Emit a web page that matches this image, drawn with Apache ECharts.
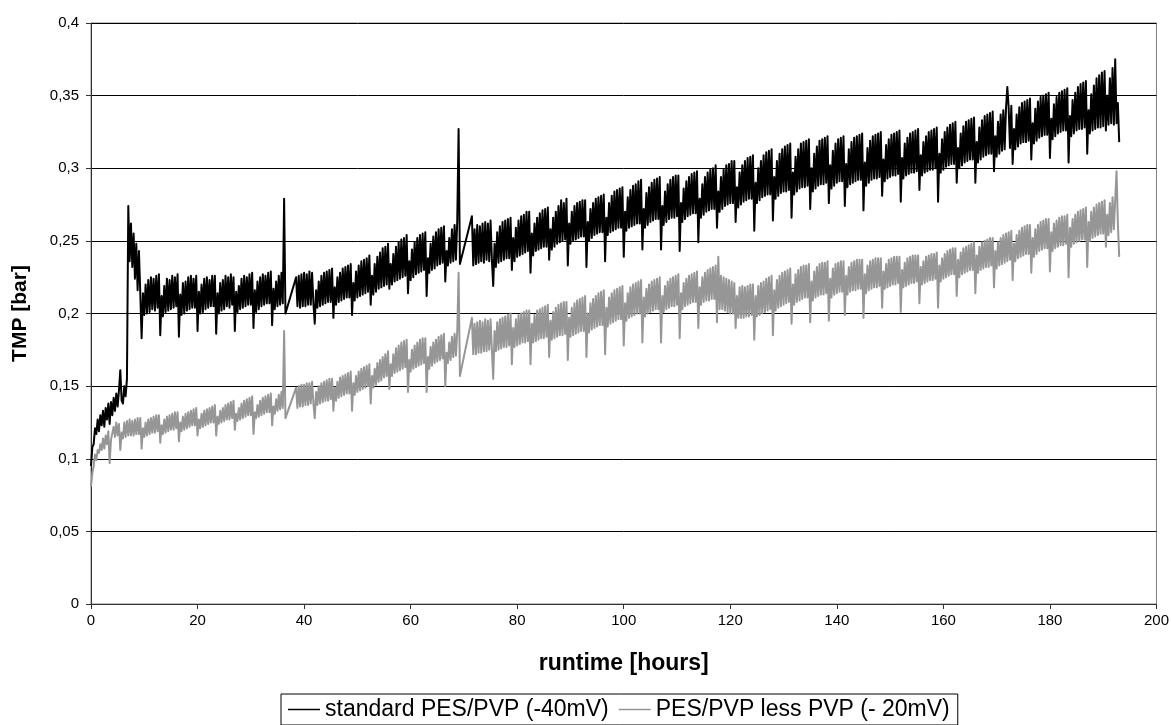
<!DOCTYPE html>
<html>
<head>
<meta charset="utf-8">
<title>TMP runtime</title>
<script src="https://cdn.jsdelivr.net/npm/echarts@6/dist/echarts.min.js"></script>
<style>
  html, body { margin: 0; padding: 0; background: #fff; }
  #tmpChart { width: 1172px; height: 725px; }
</style>
</head>
<body>
<div id="tmpChart"></div>
<script>
// logger sample interval [hours]
var STEP = 0.25

// axis ticks
var xTicks = { min: 0, max: 200, interval: 20 }
var yTicks = { min: 0, max: 0.4, interval: 0.05 }

var seriesNames = ['standard PES/PVP (-40mV)', 'PES/PVP less PVP (- 20mV)']

// standard PES/PVP, TMP [bar], three logging runs (one row = 4 hours)
var blackStartA = 0
var blackA = [
  .095, .108, .110, .121, .117, .127, .119, .130, .123, .133, .122, .135, .127, .138, .124, .139, // 0
  .130, .142, .133, .145, .136, .147, .161, .140, .138, .150, .143, .155, .274, .236, .262, .232, // 4
  .255, .224, .248, .216, .243, .214, .183, .214, .199, .220, .200, .223, .201, .225, .203, .224, // 8
  .202, .226, .204, .227, .185, .212, .198, .219, .201, .224, .202, .223, .203, .226, .204, .225, // 12
  .205, .227, .184, .213, .199, .221, .200, .222, .202, .225, .203, .226, .204, .224, .204, .226, // 16
  .188, .215, .200, .220, .201, .224, .203, .225, .204, .223, .205, .226, .205, .226, .186, .214, // 20
  .200, .221, .202, .223, .203, .226, .205, .225, .204, .227, .206, .225, .188, .215, .201, .219, // 24
  .203, .224, .204, .226, .205, .225, .206, .227, .206, .228, .190, .216, .201, .222, .203, .225, // 28
  .205, .227, .206, .226, .207, .228, .207, .229, .192, .217, .203, .222, .205, .226, .206, .228, // 32
  .207, .279, .200
]
var blackStartB = 38.5
var blackB = [
  .225, .205, .226, .204, .227, .205,
  .228, .205, .227, .206, .229, .206, .228, .207, .193, .216, .204, .222, .205, .226, .206, .228, // 40
  .207, .229, .208, .230, .208, .231, .197, .218, .206, .225, .208, .228, .209, .231, .210, .232, // 44
  .211, .233, .211, .234, .199, .221, .209, .229, .211, .233, .212, .236, .213, .237, .214, .238, // 48
  .215, .240, .206, .226, .213, .234, .215, .239, .217, .242, .218, .245, .219, .246, .220, .248, // 52
  .217, .234, .220, .241, .222, .246, .223, .249, .224, .251, .225, .252, .226, .254, .214, .236, // 56
  .223, .244, .225, .249, .227, .252, .228, .254, .229, .255, .230, .256, .212, .238, .228, .248, // 60
  .230, .253, .231, .256, .233, .258, .234, .259, .235, .260, .222, .243, .233, .252, .235, .258, // 64
  .236, .261, .237, .264, .327, .234
]
var blackStartC = 71.5
var blackC = [
  .267, .233,
  .258, .234, .261, .235, .260, .236, .262, .235, .263, .237, .262, .236, .264, .237, .219, .248, // 72
  .232, .256, .235, .260, .236, .263, .237, .264, .238, .265, .238, .266, .230, .252, .236, .259, // 76
  .239, .264, .240, .267, .241, .268, .242, .270, .243, .270, .228, .255, .240, .262, .243, .266, // 80
  .244, .269, .245, .271, .246, .272, .246, .273, .237, .258, .244, .266, .246, .270, .248, .274, // 84
  .249, .278, .250, .276, .251, .279, .233, .262, .248, .270, .250, .274, .251, .276, .252, .277, // 88
  .253, .278, .253, .278, .232, .263, .250, .272, .252, .276, .254, .279, .255, .280, .256, .281, // 92
  .256, .282, .236, .266, .254, .276, .256, .281, .257, .284, .258, .285, .259, .286, .259, .287, // 96
  .239, .270, .257, .280, .259, .285, .260, .288, .261, .289, .262, .291, .262, .292, .244, .272, // 100
  .259, .283, .261, .287, .263, .290, .264, .292, .265, .293, .265, .294, .244, .274, .261, .284, // 104
  .263, .289, .265, .292, .266, .294, .266, .295, .267, .295, .243, .276, .263, .286, .265, .291, // 108
  .267, .294, .268, .296, .269, .297, .269, .298, .249, .279, .266, .289, .268, .294, .270, .297, // 112
  .271, .299, .272, .300, .272, .302, .259, .284, .270, .294, .272, .299, .274, .302, .275, .303, // 116
  .276, .305, .276, .305, .263, .287, .273, .297, .275, .302, .277, .305, .278, .307, .279, .308, // 120
  .279, .309, .257, .290, .276, .300, .278, .305, .280, .309, .281, .311, .282, .312, .282, .313, // 124
  .264, .294, .279, .305, .281, .310, .283, .313, .284, .315, .284, .316, .285, .317, .266, .297, // 128
  .282, .308, .284, .313, .286, .317, .287, .318, .287, .319, .288, .320, .272, .300, .284, .310, // 132
  .286, .315, .288, .319, .289, .320, .289, .321, .290, .322, .276, .302, .286, .312, .288, .317, // 136
  .290, .320, .291, .321, .291, .322, .274, .303, .287, .313, .289, .318, .290, .321, .291, .322, // 140
  .292, .323, .292, .324, .271, .304, .288, .314, .290, .319, .292, .322, .293, .323, .293, .324, // 144
  .294, .325, .281, .306, .291, .316, .293, .320, .294, .323, .295, .324, .295, .325, .296, .326, // 148
  .277, .307, .293, .317, .295, .321, .296, .324, .297, .325, .297, .326, .298, .327, .285, .309, // 152
  .295, .318, .297, .322, .298, .325, .299, .326, .299, .327, .300, .328, .277, .310, .297, .320, // 156
  .299, .325, .301, .328, .302, .330, .303, .331, .303, .332, .290, .314, .300, .324, .302, .329, // 160
  .304, .332, .305, .333, .306, .334, .306, .335, .290, .318, .304, .328, .306, .333, .308, .336, // 164
  .309, .337, .310, .338, .310, .339, .298, .322, .308, .332, .310, .337, .312, .340, .313, .341, // 168
  .356, .342, .314, .343, .303, .327, .313, .337, .315, .342, .317, .345, .318, .346, .318, .347, // 172
  .319, .348, .306, .331, .317, .341, .319, .346, .321, .349, .322, .350, .323, .351, .323, .352, // 176
  .307, .334, .320, .344, .322, .349, .324, .352, .325, .353, .326, .354, .326, .355, .304, .336, // 180
  .322, .347, .324, .352, .326, .356, .327, .358, .327, .359, .328, .360, .310, .340, .324, .351, // 184
  .326, .357, .327, .362, .328, .364, .328, .366, .329, .367, .326, .350, .330, .362, .331, .369, // 188
  .330, .375, .331, .345, .318
]

// PES/PVP less PVP, TMP [bar]
var grayStartA = 0
var grayA = [
  .081, .090, .095, .103, .099, .106, .104, .110, .106, .114, .107, .116, .110, .119, .097, .113, // 0
  .112, .122, .115, .125, .116, .124, .106, .118, .114, .125, .115, .126, .116, .127, .116, .126, // 4
  .116, .127, .117, .128, .117, .128, .107, .121, .115, .125, .116, .127, .117, .128, .118, .129, // 8
  .118, .130, .119, .130, .111, .123, .117, .127, .118, .129, .119, .130, .120, .131, .120, .132, // 12
  .121, .132, .112, .125, .119, .129, .120, .131, .121, .132, .122, .133, .123, .134, .123, .135, // 16
  .116, .127, .121, .131, .122, .133, .123, .134, .124, .135, .125, .136, .125, .137, .116, .129, // 20
  .124, .133, .125, .135, .126, .137, .127, .138, .127, .139, .128, .140, .120, .131, .126, .135, // 24
  .127, .138, .128, .140, .129, .141, .130, .142, .130, .143, .117, .132, .128, .137, .129, .140, // 28
  .130, .142, .131, .143, .132, .144, .132, .145, .123, .136, .131, .141, .133, .144, .134, .146, // 32
  .135, .188, .128
]
var grayStartB = 38.5
var grayB = [
  .149, .135, .150, .136, .151, .136,
  .151, .137, .152, .137, .152, .138, .153, .138, .128, .146, .137, .150, .138, .152, .139, .153, // 40
  .140, .154, .140, .155, .141, .155, .133, .149, .140, .153, .142, .156, .143, .157, .144, .158, // 44
  .145, .159, .145, .160, .133, .152, .144, .157, .146, .160, .147, .162, .148, .163, .149, .164, // 48
  .150, .165, .138, .157, .149, .162, .151, .166, .153, .168, .154, .170, .156, .172, .157, .174, // 52
  .148, .165, .157, .172, .159, .176, .160, .178, .161, .180, .162, .181, .163, .182, .146, .168, // 56
  .160, .175, .162, .178, .163, .180, .164, .182, .165, .183, .166, .183, .146, .170, .162, .177, // 60
  .164, .180, .166, .182, .167, .184, .168, .185, .169, .186, .150, .173, .166, .180, .168, .184, // 64
  .170, .186, .171, .188, .228, .157
]
var grayStartC = 71.5
var grayC = [
  .197, .172,
  .193, .172, .194, .173, .195, .173, .194, .174, .196, .174, .195, .175, .196, .175, .155, .188, // 72
  .174, .194, .175, .196, .176, .197, .177, .198, .177, .199, .178, .200, .165, .190, .177, .196, // 76
  .178, .199, .179, .200, .180, .201, .180, .202, .181, .202, .165, .193, .180, .199, .181, .202, // 80
  .182, .203, .183, .204, .183, .205, .184, .206, .170, .195, .182, .201, .183, .204, .184, .206, // 84
  .185, .207, .185, .208, .186, .208, .168, .197, .184, .204, .185, .207, .186, .209, .187, .210, // 88
  .188, .211, .188, .212, .170, .200, .187, .207, .189, .210, .190, .212, .191, .214, .192, .215, // 92
  .192, .216, .172, .204, .191, .211, .193, .214, .194, .216, .195, .217, .196, .218, .196, .219, // 96
  .178, .207, .195, .214, .197, .218, .198, .220, .199, .221, .200, .222, .200, .223, .180, .211, // 100
  .198, .217, .200, .220, .201, .222, .202, .223, .203, .224, .203, .225, .180, .212, .201, .219, // 104
  .203, .222, .204, .224, .205, .225, .205, .226, .206, .227, .183, .214, .203, .221, .205, .224, // 108
  .206, .226, .207, .227, .208, .228, .208, .229, .190, .218, .206, .225, .208, .228, .209, .230, // 112
  .209, .231, .210, .232, .210, .233, .194, .239, .203, .226, .203, .225, .202, .224, .201, .223, // 116
  .200, .222, .200, .221, .190, .212, .197, .218, .197, .219, .197, .218, .198, .219, .198, .220, // 120
  .199, .220, .182, .212, .198, .219, .199, .221, .200, .222, .201, .224, .202, .225, .203, .226, // 124
  .185, .216, .202, .223, .204, .226, .205, .228, .206, .229, .207, .230, .208, .231, .193, .220, // 128
  .206, .227, .208, .230, .209, .232, .210, .233, .211, .233, .211, .234, .194, .222, .209, .229, // 132
  .211, .232, .212, .234, .213, .235, .213, .235, .214, .236, .195, .224, .211, .231, .213, .234, // 136
  .214, .235, .215, .236, .215, .236, .199, .226, .213, .232, .215, .235, .216, .236, .216, .237, // 140
  .217, .237, .217, .237, .197, .227, .214, .233, .216, .236, .217, .237, .218, .238, .218, .238, // 144
  .219, .238, .204, .229, .217, .234, .218, .237, .219, .238, .220, .239, .220, .239, .221, .239, // 148
  .201, .230, .218, .235, .219, .238, .220, .239, .221, .240, .221, .240, .222, .240, .207, .232, // 152
  .220, .236, .221, .239, .222, .240, .223, .241, .223, .241, .224, .242, .204, .233, .222, .238, // 156
  .224, .241, .225, .243, .226, .244, .227, .245, .227, .245, .212, .237, .225, .242, .227, .245, // 160
  .228, .246, .229, .247, .230, .248, .230, .249, .214, .240, .228, .246, .230, .249, .231, .250, // 164
  .232, .251, .232, .252, .233, .252, .218, .243, .231, .249, .233, .252, .234, .254, .235, .255, // 168
  .236, .256, .237, .257, .223, .248, .236, .254, .238, .257, .239, .259, .240, .260, .241, .261, // 172
  .241, .261, .228, .252, .239, .258, .241, .261, .243, .263, .244, .264, .245, .265, .245, .265, // 176
  .229, .256, .243, .262, .245, .264, .246, .266, .247, .267, .247, .267, .248, .268, .225, .259, // 180
  .246, .265, .248, .268, .249, .270, .250, .271, .251, .272, .251, .273, .232, .263, .250, .270, // 184
  .252, .273, .253, .275, .254, .276, .255, .277, .255, .278, .246, .268, .254, .276, .256, .280, // 188
  .258, .278, .298, .262, .239
]

// [hours, bar] pairs from a run's start time
function toPoints(start, values) {
  return values.map(function(v, i) { return [start + i * STEP, v] })
}

var blackData = toPoints(blackStartA, blackA)
  .concat(toPoints(blackStartB, blackB), toPoints(blackStartC, blackC))
var grayData = toPoints(grayStartA, grayA)
  .concat(toPoints(grayStartB, grayB), toPoints(grayStartC, grayC))

var FONT = 'Liberation Sans, Arial, sans-serif'

var option = {
  animation: false,
  textStyle: { fontFamily: FONT, color: '#000' },
  grid: {
    left: 91,
    right: 15,
    top: 23,
    bottom: 121,
    show: true,
    borderColor: '#808080',
    borderWidth: 1,
    backgroundColor: '#fff'
  },
  legend: {
    left: 281,
    top: 694,
    orient: 'horizontal',
    icon: 'rect',
    itemWidth: 32,
    itemHeight: 1.5,
    itemGap: 10,
    padding: [4, 8, 4, 7],
    borderColor: '#000',
    borderWidth: 1,
    textStyle: { fontFamily: FONT, fontSize: 23, color: '#000' },
    data: seriesNames
  },
  xAxis: {
    type: 'value',
    min: xTicks.min,
    max: xTicks.max,
    interval: xTicks.interval,
    name: 'runtime [hours]',
    nameLocation: 'middle',
    nameGap: 48,
    nameTextStyle: { fontFamily: FONT, fontSize: 23, fontWeight: 'bold', color: '#000' },
    axisLine: { show: true, lineStyle: { color: '#333', width: 1 } },
    axisTick: { show: true, inside: false, length: 5, lineStyle: { color: '#333' } },
    axisLabel: { fontSize: 15, color: '#000', margin: 9 },
    splitLine: { show: false }
  },
  yAxis: {
    type: 'value',
    min: yTicks.min,
    max: yTicks.max,
    interval: yTicks.interval,
    name: 'TMP [bar]',
    nameLocation: 'middle',
    nameGap: 60,
    nameTextStyle: { fontFamily: FONT, fontSize: 21, fontWeight: 'bold', color: '#000' },
    axisLine: { show: true, lineStyle: { color: '#333', width: 1 } },
    axisTick: { show: true, inside: false, length: 5, lineStyle: { color: '#333' } },
    axisLabel: {
      fontSize: 15,
      color: '#000',
      margin: 12,
      formatter: function(v) {
        return String(Math.round(v * 100) / 100).replace('.', ',')
      }
    },
    splitLine: { show: true, lineStyle: { color: '#000', width: 1 } }
  },
  series: [
    {
      name: seriesNames[0],
      type: 'line',
      data: blackData,
      showSymbol: false,
      color: '#000',
      lineStyle: { color: '#000', width: 2, join: 'round' },
      z: 3
    },
    {
      name: seriesNames[1],
      type: 'line',
      data: grayData,
      showSymbol: false,
      color: '#969696',
      lineStyle: { color: '#969696', width: 2, join: 'round' },
      z: 2
    }
  ]
}

var tmpChart = echarts.init(document.getElementById('tmpChart'))
tmpChart.setOption(option)
</script>
</body>
</html>
